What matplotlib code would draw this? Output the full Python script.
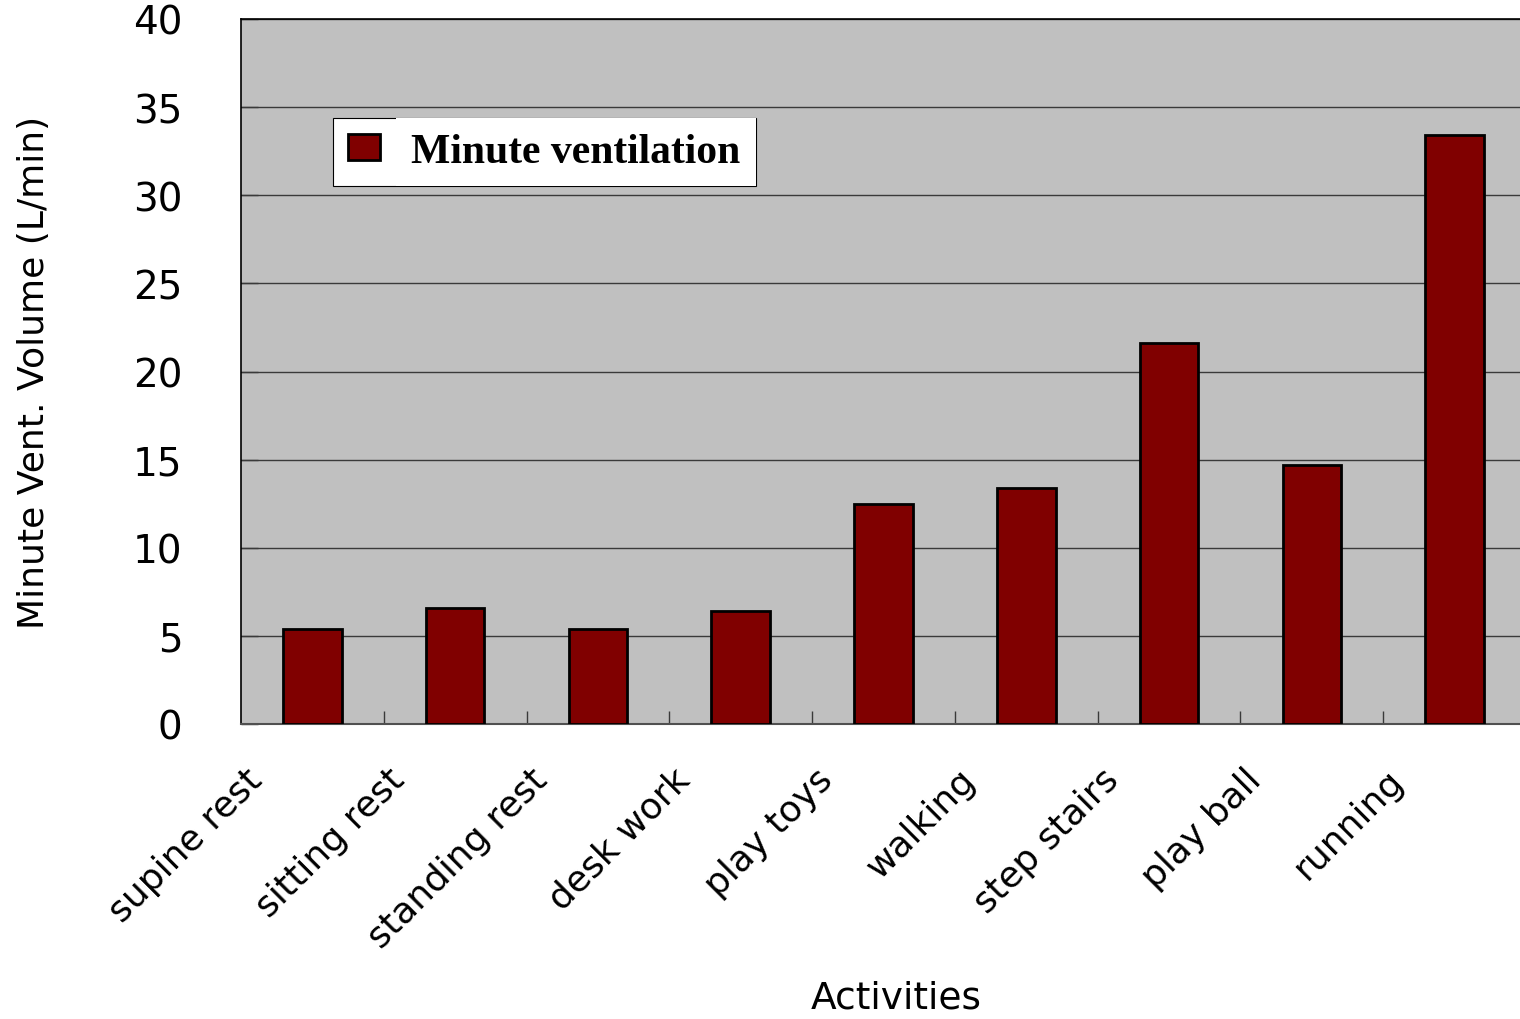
import matplotlib.pyplot as plt
import matplotlib.transforms as mtransforms
import numpy as np

# Minute ventilation by activity
activities = ["supine rest", "sitting rest", "standing rest", "desk work",
              "play toys", "walking", "step stairs", "play ball", "running"]
minute_vent = [5.4, 6.6, 5.4, 6.4, 12.5, 13.4, 21.6, 14.7, 33.4]
y_ticks = [0, 5, 10, 15, 20, 25, 30, 35, 40]

fig = plt.figure(figsize=(15.2, 10.2), dpi=100)
ax = fig.add_axes([241 / 1520, 1 - 725 / 1020, 1285 / 1520, 705 / 1020])
ax.set_facecolor("#c0c0c0")

x = np.arange(len(activities))
ax.bar(x, minute_vent, width=0.41, color="#800000", edgecolor="black",
       linewidth=2.0, label="Minute ventilation", zorder=3)

ax.set_xlim(-0.5, len(activities) - 0.5)
ax.set_ylim(0, 40)
ax.set_yticks(y_ticks)
ax.yaxis.grid(True, color="#3a3a3a", linewidth=1.0, zorder=1)
ax.set_axisbelow(True)

# y ticks: short inward marks, big numbers
ax.tick_params(axis="y", direction="in", length=12, width=1, color="#3a3a3a",
               labelsize=28, pad=42)

# x: category boundaries get inward minor ticks, labels sit at centres
ax.set_xticks(x)
ax.set_xticks(np.arange(0.5, len(activities) - 0.5, 1), minor=True)
ax.tick_params(axis="x", which="major", length=0, pad=0)
ax.tick_params(axis="x", which="minor", direction="in", length=9.5, width=1,
               color="#3a3a3a")
ax.set_xticklabels(activities, rotation=45, ha="right", va="top",
                   rotation_mode="anchor", fontsize=26)
offset = mtransforms.ScaledTranslation(-68 / 100, -38 / 100, fig.dpi_scale_trans)
for lab in ax.get_xticklabels():
    lab.set_transform(lab.get_transform() + offset)

for side in ["left", "top"]:
    ax.spines[side].set_color("black")
    ax.spines[side].set_linewidth(1.2)
ax.spines["bottom"].set_color("#505050")
ax.spines["bottom"].set_linewidth(1.5)
ax.spines["right"].set_visible(False)

ax.set_ylabel("Minute Vent. Volume (L/min)", fontsize=26)
ax.yaxis.set_label_coords(-0.148, 0.5)
ax.set_xlabel("Activities", fontsize=27)
ax.xaxis.set_label_coords(0.51, -0.362)

leg = ax.legend(loc="upper left", bbox_to_anchor=(0.0717, 0.8596),
                borderaxespad=0, fancybox=False, framealpha=1,
                edgecolor="black", handlelength=0.77, handleheight=0.58,
                handletextpad=0.75, borderpad=0.36,
                prop={"family": "Liberation Serif", "weight": "bold", "size": 30})
leg.get_frame().set_linewidth(0.8)
leg.set_zorder(5)
for t in leg.get_texts():
    t.set_bbox(dict(facecolor="white", edgecolor="none", pad=11))

fig.savefig("out.png", dpi=100)
